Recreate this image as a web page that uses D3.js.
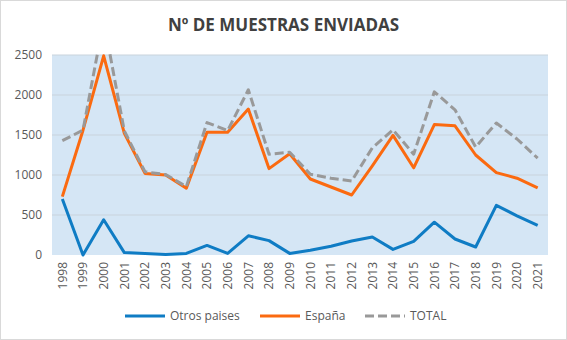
<!DOCTYPE html>
<html>
<head>
<meta charset="utf-8">
<script src="https://cdn.jsdelivr.net/npm/d3@7"></script>
<style>
  body { margin: 0; background: #fff; }
  text { font-family: "Open Sans", "Liberation Sans", sans-serif; }
</style>
</head>
<body>
<svg id="chart"></svg>
<script>
// data
const years = ["1998","1999","2000","2001","2002","2003","2004","2005","2006","2007","2008","2009",
               "2010","2011","2012","2013","2014","2015","2016","2017","2018","2019","2020","2021"];
const otros  = [700, 0, 440, 30, 20, 5, 20, 120, 20, 240, 180, 20, 60, 110, 175, 225, 70, 170, 410, 200, 100, 620, 490, 370];
const espana = [730, 1560, 2490, 1520, 1020, 1000, 835, 1535, 1535, 1825, 1080, 1265, 950, 850, 750, 1115, 1495, 1090, 1630, 1615, 1250, 1030, 960, 840];
const total  = [1430, 1560, 2930, 1550, 1040, 1005, 855, 1655, 1555, 2065, 1260, 1285, 1010, 960, 925, 1340, 1565, 1260, 2040, 1815, 1350, 1650, 1450, 1210];
const yTicks = [0, 500, 1000, 1500, 2000, 2500];

const W = 567, H = 340;
const plot = {left: 52, right: 548, top: 55, bottom: 255};

const svg = d3.select("#chart").attr("width", W).attr("height", H);

// outer border
svg.append("rect")
    .attr("x", 0.5).attr("y", 0.5)
    .attr("width", W - 1).attr("height", H - 1)
    .attr("fill", "#fff").attr("stroke", "#d9d9d9");

// title
svg.append("text")
    .attr("x", W / 2).attr("y", 31)
    .attr("text-anchor", "middle")
    .attr("font-size", 17).attr("font-weight", "bold")
    .attr("fill", "#404040")
    .text("Nº DE MUESTRAS ENVIADAS");

const x = d3.scaleBand().domain(years).range([plot.left, plot.right]);
const y = d3.scaleLinear().domain([0, 2500]).range([plot.bottom, plot.top]);

// plot background
svg.append("rect")
    .attr("x", plot.left).attr("y", plot.top)
    .attr("width", plot.right - plot.left).attr("height", plot.bottom - plot.top)
    .attr("fill", "#d5e6f5");

// gridlines
svg.append("g")
  .selectAll("line")
  .data(yTicks.slice(1))
  .join("line")
    .attr("x1", plot.left).attr("x2", plot.right)
    .attr("y1", d => y(d)).attr("y2", d => y(d))
    .attr("stroke", "#c9d3dc").attr("stroke-width", 1);

// y axis labels
const yAxis = svg.append("g")
    .attr("transform", `translate(${plot.left},0)`)
    .call(d3.axisLeft(y).tickValues(yTicks).tickFormat(d3.format("d")).tickSize(0).tickPadding(10));
yAxis.select(".domain").remove();
yAxis.selectAll("text").attr("font-size", 12).attr("fill", "#595959")
    .style("font-family", "'Open Sans', 'Liberation Sans', sans-serif");

// x axis labels, rotated
const xAxis = svg.append("g")
    .attr("transform", `translate(0,${plot.bottom})`)
    .call(d3.axisBottom(x).tickSize(0));
xAxis.select(".domain").remove();
xAxis.selectAll("text")
    .attr("font-size", 12).attr("fill", "#595959")
    .style("font-family", "'Open Sans', 'Liberation Sans', sans-serif")
    .attr("transform", "rotate(-90)")
    .attr("text-anchor", "end")
    .attr("x", -7).attr("y", 0).attr("dy", "0.35em");

// lines, clipped at the top of the plot like the original
svg.append("clipPath").attr("id", "clip")
  .append("rect")
    .attr("x", plot.left).attr("y", plot.top - 2)
    .attr("width", plot.right - plot.left).attr("height", plot.bottom - plot.top + 4);

const line = d3.line()
    .x((d, i) => x(years[i]) + x.bandwidth() / 2)
    .y(d => y(d));

const series = [
    {name: "Otros paises", values: otros, color: "#0f7cc4", dash: null},
    {name: "España", values: espana, color: "#fb6a10", dash: null},
    {name: "TOTAL", values: total, color: "#999999", dash: "9,4"}
];

const g = svg.append("g").attr("clip-path", "url(#clip)");
series.forEach(s => {
    g.append("path")
        .datum(s.values)
        .attr("d", line)
        .attr("fill", "none")
        .attr("stroke", s.color)
        .attr("stroke-width", 3)
        .attr("stroke-linejoin", "round")
        .attr("stroke-dasharray", s.dash);
});

// legend
const legendPos = [{lx: 125, tx: 170}, {lx: 260, tx: 305}, {lx: 365, tx: 410}];
const legend = svg.append("g");
series.forEach((s, i) => {
    const p = legendPos[i];
    legend.append("line")
        .attr("x1", p.lx).attr("x2", p.lx + 40)
        .attr("y1", 316).attr("y2", 316)
        .attr("stroke", s.color).attr("stroke-width", 3)
        .attr("stroke-dasharray", s.dash);
    legend.append("text")
        .attr("x", p.tx).attr("y", 316).attr("dy", "0.35em")
        .attr("font-size", 12).attr("fill", "#595959")
        .text(s.name);
});
</script>
</body>
</html>
